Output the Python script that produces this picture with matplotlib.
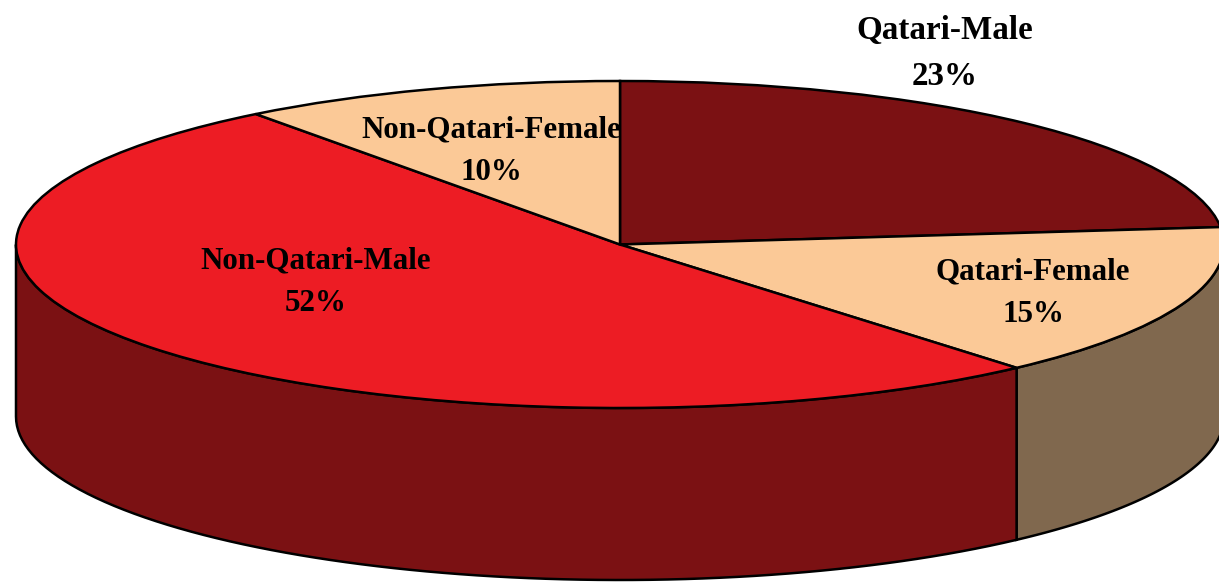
from matplotlib import pyplot as plt
from matplotlib.patches import Polygon
import numpy as np

labels = ['Qatari-Male', 'Qatari-Female', 'Non-Qatari-Male', 'Non-Qatari-Female']
percents = [23, 15, 52, 10]
# slice shares as they are drawn in the picture, the printed percents differ a bit
shares = [23.3, 15.3, 51.1, 10.3]
top_colors = ['#7b1113', '#fbc997', '#ed1c24', '#fbc997']
side_colors = ['#7b1113', '#80684e', '#7b1113', '#80684e']

W, H = 1219, 582
cx, cy = 620, 244.5
rx, ry = 604, 163.5
depth = 172


def sideWall(theta1, theta2):
    # outline of the visible rim between two angles of the unit pie
    a1 = max(theta1 % 360 if theta1 % 360 >= 180 else 180, 180)
    a2 = min(theta2, 360)
    t = np.radians(np.linspace(a1, a2, 80))
    x, y = np.cos(t), np.sin(t)
    top = np.column_stack([x, y])
    bottom = np.column_stack([x, y - depth / ry])[::-1]
    return np.vstack([top, bottom])


fig = plt.figure(figsize=(W / 100, H / 100), dpi=100)
ax = fig.add_axes([0, 0, 1, 1])

wedges, _ = ax.pie(shares, colors=top_colors, startangle=90, counterclock=False,
                   wedgeprops={'edgecolor': 'black', 'linewidth': 1.8})
for w in wedges:
    w.set_zorder(3)
ax.set_aspect('auto')
ax.set_xlim(-cx / rx, (W - cx) / rx)
ax.set_ylim((cy - H) / ry, cy / ry)

# side of the disc, split at the wedge edges that show in front
for w, c in zip(wedges, side_colors):
    t1, t2 = w.theta1, w.theta2
    while t2 <= 180:
        t1 += 360
        t2 += 360
    if t2 <= 180 or t1 >= 360:
        continue
    ax.add_patch(Polygon(sideWall(t1, t2), closed=True, facecolor=c,
                         edgecolor='black', linewidth=1.8, zorder=2))

label_px = [(945, 53.5), (1033, 293), (316, 282), (491, 151)]
label_sizes = [23.8, 22.3, 22.3, 22.3]
for name, v, (px, py), fs in zip(labels, percents, label_px, label_sizes):
    ax.text(px / W, 1 - py / H, f'{name}\n{v}%', transform=ax.transAxes, color='black',
            family='Liberation Serif', fontweight='bold', fontsize=fs,
            ha='center', va='center', linespacing=1.62, zorder=5)

fig.savefig('out.png', dpi=100)
